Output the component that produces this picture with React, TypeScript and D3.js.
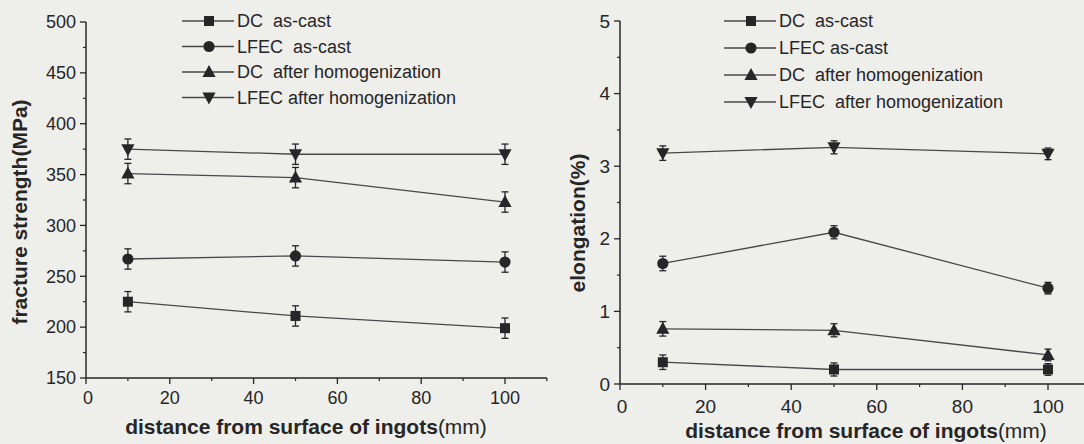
import { useEffect, useRef } from "react";
import * as d3 from "d3";

// distance from ingot surface (mm)
const distances = [10, 50, 100];

const leftLegend = ["DC  as-cast", "LFEC  as-cast", "DC  after homogenization", "LFEC after homogenization"];
const rightLegend = ["DC  as-cast", "LFEC as-cast", "DC  after homogenization", "LFEC  after homogenization"];
const markerKinds = ["square", "circle", "up", "down"];

// fracture strength (MPa)
const dcAsCastStrength = [225, 211, 199];
const lfecAsCastStrength = [267, 270, 264];
const dcHomoStrength = [351, 347, 323];
const lfecHomoStrength = [375, 370, 370];
const strengthErr = [10, 10, 10];

// elongation (%)
const dcAsCastElong = [0.3, 0.2, 0.2];
const lfecAsCastElong = [1.66, 2.09, 1.32];
const dcHomoElong = [0.76, 0.74, 0.4];
const lfecHomoElong = [3.18, 3.26, 3.17];
const elongErr = [0.1, 0.09, 0.08];

const strengthTicks = [150, 200, 250, 300, 350, 400, 450, 500];
const elongTicks = [0, 1, 2, 3, 4, 5];
const distTicks = [0, 20, 40, 60, 80, 100];

const INK = "#262626";
const LINE = "#484848";
const FONT = "'Liberation Sans', Arial, sans-serif";

type Panel = {
  x0: number; x1: number; y0: number; y1: number;
  yDomain: [number, number]; yTicks: number[]; yMinorStep: number;
  series: number[][]; err: number[];
  legend: string[]; legendX: number; legendY: number; legendStep: number;
  tickFont: number; tickGap: number;
  yTitle: string; yTitleX: number; yTitleY: number;
  xTitleX: number; xTitleY: number;
};

function marker(g: d3.Selection<SVGGElement, unknown, null, undefined>, kind: string, cx: number, cy: number) {
  if (kind === "square") {
    g.append("rect").attr("x", cx - 5).attr("y", cy - 5).attr("width", 10).attr("height", 10).attr("fill", INK);
  } else if (kind === "circle") {
    g.append("circle").attr("cx", cx).attr("cy", cy).attr("r", 5.6).attr("fill", INK);
  } else if (kind === "up") {
    g.append("path").attr("d", `M${cx},${cy - 7}L${cx + 6.6},${cy + 5}L${cx - 6.6},${cy + 5}Z`).attr("fill", INK);
  } else {
    g.append("path").attr("d", `M${cx},${cy + 7}L${cx + 6.6},${cy - 5}L${cx - 6.6},${cy - 5}Z`).attr("fill", INK);
  }
}

function drawPanel(svg: d3.Selection<SVGSVGElement, unknown, null, undefined>, p: Panel) {
  const x = d3.scaleLinear().domain([0, 100]).range([p.x0, p.x1]);
  const y = d3.scaleLinear().domain(p.yDomain).range([p.y0, p.y1]);
  const g = svg.append("g");
  const xEnd = x(110);
  const yTop = y(p.yDomain[1]);
  const yBase = y(p.yDomain[0]);

  // axes
  g.append("line").attr("x1", x(0)).attr("x2", x(0)).attr("y1", yBase).attr("y2", yTop)
    .attr("stroke", INK).attr("stroke-width", 1.5);
  g.append("line").attr("x1", x(0)).attr("x2", xEnd).attr("y1", yBase).attr("y2", yBase)
    .attr("stroke", INK).attr("stroke-width", 1.5);

  // y ticks
  const minor = d3.range(p.yDomain[0] + p.yMinorStep, p.yDomain[1], p.yMinorStep * 2);
  minor.forEach(v => {
    g.append("line").attr("x1", x(0) - 3).attr("x2", x(0)).attr("y1", y(v)).attr("y2", y(v)).attr("stroke", INK).attr("stroke-width", 1.2);
  });
  p.yTicks.forEach(v => {
    g.append("line").attr("x1", x(0) - 6).attr("x2", x(0)).attr("y1", y(v)).attr("y2", y(v)).attr("stroke", INK).attr("stroke-width", 1.3);
    g.append("text").attr("x", x(0) - 10).attr("y", y(v)).attr("dy", "0.35em").attr("text-anchor", "end")
      .attr("font-size", p.tickFont).attr("fill", INK).text(String(v));
  });

  // x ticks
  d3.range(10, 111, 20).forEach(v => {
    g.append("line").attr("x1", x(v)).attr("x2", x(v)).attr("y1", yBase).attr("y2", yBase + 3).attr("stroke", INK).attr("stroke-width", 1.2);
  });
  distTicks.forEach(v => {
    g.append("line").attr("x1", x(v)).attr("x2", x(v)).attr("y1", yBase).attr("y2", yBase + 6).attr("stroke", INK).attr("stroke-width", 1.3);
    g.append("text").attr("x", x(v) + (v === 0 ? 2 : 0)).attr("y", yBase + p.tickGap).attr("text-anchor", "middle")
      .attr("font-size", p.tickFont).attr("fill", INK).text(String(v));
  });

  // series
  const line = d3.line<number>().x((_, i) => x(distances[i])).y(d => y(d));
  p.series.forEach((vals, s) => {
    g.append("path").datum(vals).attr("d", line).attr("fill", "none").attr("stroke", LINE).attr("stroke-width", 1.3);
    vals.forEach((v, i) => {
      const cx = x(distances[i]);
      const e = p.err[i];
      g.append("line").attr("x1", cx).attr("x2", cx).attr("y1", y(v - e)).attr("y2", y(v + e)).attr("stroke", INK).attr("stroke-width", 1.3);
      [v - e, v + e].forEach(t => {
        g.append("line").attr("x1", cx - 3.5).attr("x2", cx + 3.5).attr("y1", y(t)).attr("y2", y(t)).attr("stroke", INK).attr("stroke-width", 1.3);
      });
      marker(g, markerKinds[s], cx, y(v));
    });
  });

  // legend
  p.legend.forEach((name, i) => {
    const ly = p.legendY + i * p.legendStep;
    g.append("line").attr("x1", p.legendX).attr("x2", p.legendX + 52).attr("y1", ly).attr("y2", ly).attr("stroke", LINE).attr("stroke-width", 1.3);
    marker(g, markerKinds[i], p.legendX + 27, ly);
    g.append("text").attr("x", p.legendX + 55).attr("y", ly).attr("dy", "0.36em").attr("font-size", 18)
      .attr("fill", INK).style("white-space", "pre").text(name);
  });

  // titles
  g.append("text").attr("transform", `translate(${p.yTitleX},${p.yTitleY}) rotate(-90)`).attr("text-anchor", "middle")
    .attr("font-size", 21).attr("font-weight", "bold").attr("fill", INK).text(p.yTitle);
  const xt = g.append("text").attr("x", p.xTitleX).attr("y", p.xTitleY).attr("text-anchor", "middle").attr("font-size", 21).attr("fill", INK);
  xt.append("tspan").attr("font-weight", "bold").text("distance from surface of ingots");
  xt.append("tspan").text("(mm)");
}

export default function App() {
  const ref = useRef<SVGSVGElement | null>(null);

  useEffect(() => {
    if (!ref.current) return;
    const svg = d3.select(ref.current);
    svg.selectAll("*").remove();
    svg.append("rect").attr("width", 1084).attr("height", 444).attr("fill", "#eeeeeb");

    drawPanel(svg, {
      x0: 86, x1: 505, y0: 378, y1: 22,
      yDomain: [150, 500], yTicks: strengthTicks, yMinorStep: 25,
      series: [dcAsCastStrength, lfecAsCastStrength, dcHomoStrength, lfecHomoStrength], err: strengthErr,
      legend: leftLegend, legendX: 182, legendY: 21, legendStep: 25.5,
      tickFont: 18, tickGap: 26,
      yTitle: "fracture strength(MPa)", yTitleX: 27, yTitleY: 212,
      xTitleX: 306, xTitleY: 434,
    });

    drawPanel(svg, {
      x0: 620, x1: 1048, y0: 384, y1: 21,
      yDomain: [0, 5], yTicks: elongTicks, yMinorStep: 0.5,
      series: [dcAsCastElong, lfecAsCastElong, dcHomoElong, lfecHomoElong], err: elongErr,
      legend: rightLegend, legendX: 724, legendY: 21, legendStep: 27,
      tickFont: 19, tickGap: 29,
      yTitle: "elongation(%)", yTitleX: 585, yTitleY: 223,
      xTitleX: 866, xTitleY: 438,
    });
  }, []);

  return (
    <>
      <style>{`body{margin:0}`}</style>
      <svg ref={ref} width={1084} height={444} style={{ display: "block", fontFamily: FONT }} role="img" aria-label="Fracture strength and elongation vs distance" />
    </>
  );
}
